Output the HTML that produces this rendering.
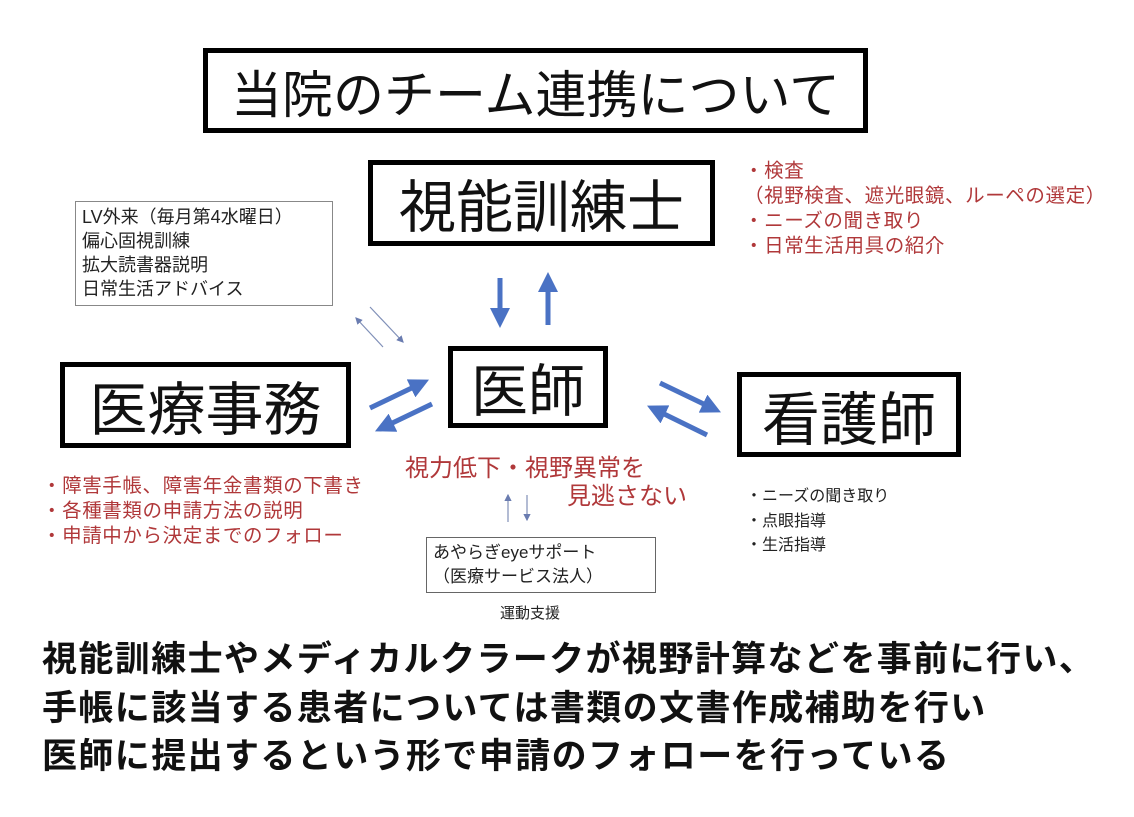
<!DOCTYPE html>
<html><head><meta charset="utf-8"><style>
body{margin:0;width:1134px;height:817px;background:#fff;position:relative;overflow:hidden;font-family:"Liberation Sans","Noto Sans CJK JP",sans-serif;}
.b{position:absolute;box-sizing:border-box;border:5px solid #000;display:flex;align-items:center;justify-content:center;color:#111;white-space:nowrap;}
.t{position:absolute;white-space:nowrap;}
.r{color:#b0383a;font-size:19.5px;line-height:25px;}
</style></head><body>
<div class="b" style="left:203px;top:48px;width:665px;height:85px;font-size:51px;">当院のチーム連携について</div>
<div class="b" style="left:368px;top:160px;width:347px;height:86px;font-size:57px;">視能訓練士</div>
<div class="b" style="left:448px;top:346px;width:160px;height:82px;font-size:57px;">医師</div>
<div class="b" style="left:60px;top:362px;width:291px;height:86px;font-size:58px;">医療事務</div>
<div class="b" style="left:737px;top:372px;width:224px;height:85px;font-size:58px;">看護師</div>
<div class="t" style="left:75px;top:201px;width:258px;height:105px;border:1.5px solid #888;box-sizing:border-box;padding:3px 0 0 6px;font-size:18px;line-height:24px;color:#222;">LV外来（毎月第4水曜日）<br>偏心固視訓練<br>拡大読書器説明<br>日常生活アドバイス</div>
<div class="t r" style="left:744px;top:159px;letter-spacing:0.6px;">・検査<br>（視野検査、遮光眼鏡、ルーペの選定）<br>・ニーズの聞き取り<br>・日常生活用具の紹介</div>
<div class="t r" style="left:42px;top:474px;letter-spacing:0.6px;">・障害手帳、障害年金書類の下書き<br>・各種書類の申請方法の説明<br>・申請中から決定までのフォロー</div>
<div class="t" style="left:405px;top:448px;color:#b0383a;font-size:24px;">視力低下・視野異常を</div>
<div class="t" style="left:567px;top:476px;color:#b0383a;font-size:24px;">見逃さない</div>
<div class="t" style="left:746px;top:485px;font-size:16px;line-height:24.5px;color:#222;">・ニーズの聞き取り<br>・点眼指導<br>・生活指導</div>
<div class="t" style="left:426px;top:537px;width:230px;height:56px;border:1.5px solid #666;box-sizing:border-box;padding:3px 0 0 6px;font-size:17px;line-height:24px;color:#222;">あやらぎeyeサポート<br>（医療サービス法人）</div>
<div class="t" style="left:500px;top:602px;font-size:15px;color:#222;">運動支援</div>
<div class="t" style="left:42px;top:636px;font-size:35px;font-weight:bold;line-height:48.5px;letter-spacing:1.4px;color:#111;">視能訓練士やメディカルクラークが視野計算などを事前に行い、<br>手帳に該当する患者については書類の文書作成補助を行い<br>医師に提出するという形で申請のフォローを行っている</div>
<svg width="1134" height="817" style="position:absolute;left:0;top:0">
<defs>
<marker id="a" markerWidth="4" markerHeight="4" refX="2" refY="2" orient="auto" markerUnits="strokeWidth"><path d="M0,0L4,2L0,4z" fill="#4a72c4"/></marker>
<marker id="s" markerWidth="6" markerHeight="6" refX="5" refY="3" orient="auto" markerUnits="strokeWidth"><path d="M0,0L6,3L0,6z" fill="#6a7cb0"/></marker>
</defs>
<g stroke="#4a72c4" stroke-width="5" fill="none">
<line x1="500" y1="278" x2="500" y2="318" marker-end="url(#a)"/>
<line x1="548" y1="325" x2="548" y2="282" marker-end="url(#a)"/>
<line x1="370" y1="408" x2="420" y2="384" marker-end="url(#a)"/>
<line x1="432" y1="404" x2="384" y2="427" marker-end="url(#a)"/>
<line x1="660" y1="383" x2="712" y2="408" marker-end="url(#a)"/>
<line x1="707" y1="435" x2="656" y2="410" marker-end="url(#a)"/>
</g>
<g stroke="#8090b8" stroke-width="1.2">
<line x1="383" y1="347" x2="356" y2="318" marker-end="url(#s)"/>
<line x1="370" y1="307" x2="403" y2="342" marker-end="url(#s)"/>
<line x1="508" y1="522" x2="508" y2="495" marker-end="url(#s)"/>
<line x1="527" y1="495" x2="527" y2="520" marker-end="url(#s)"/>
</g>
</svg>
</body></html>
